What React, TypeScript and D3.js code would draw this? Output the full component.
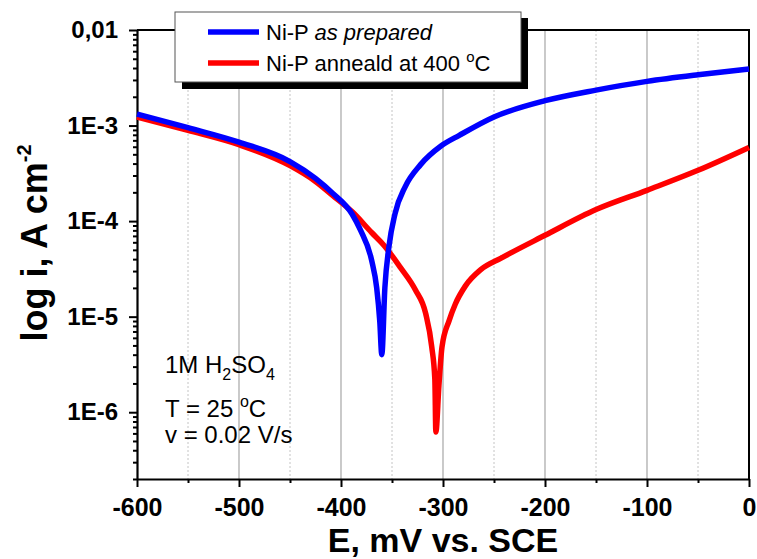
// Potentiodynamic polarization curves (log i vs E) for two Ni-P coatings

import React, { useEffect, useRef } from "react"
import * as d3 from "d3"

// E in mV vs. SCE, current density in A/cm2
const preparedE = [-600, -550, -500, -450, -425, -408, -389, -381, -370, -365, -362, -360, -357, -353, -347, -337, -322, -302, -284, -250, -200, -150, -100, -50, 0]
const preparedI = [1.32e-3, 9.5e-4, 6.7e-4, 4.2e-4, 2.8e-4, 1.95e-4, 1.18e-4, 8.1e-5, 3.9e-5, 2.0e-5, 9e-6, 4e-6, 2e-5, 5.4e-5, 1.2e-4, 2.3e-4, 3.9e-4, 6.1e-4, 7.9e-4, 1.23e-3, 1.82e-3, 2.35e-3, 2.9e-3, 3.4e-3, 3.9e-3]

const annealedE = [-600, -550, -500, -450, -425, -408, -389, -370, -358, -342, -327, -317, -311, -308, -307, -304, -301, -294, -288, -278, -263, -243, -200, -150, -100, -50, 0]
const annealedI = [1.23e-3, 8.9e-4, 6.3e-4, 3.8e-4, 2.6e-4, 1.85e-4, 1.25e-4, 7.6e-5, 5.6e-5, 3.3e-5, 1.9e-5, 1.08e-5, 4.8e-6, 2.2e-6, 6.2e-7, 1.9e-6, 4.8e-6, 9.1e-6, 1.35e-5, 2.1e-5, 3.1e-5, 4.1e-5, 7.1e-5, 1.32e-4, 2.1e-4, 3.4e-4, 5.9e-4]

const xTicks = [-600, -500, -400, -300, -200, -100, 0]
const xMinorTicks = [-550, -450, -350, -250, -150, -50]
const yTicks = [1e-2, 1e-3, 1e-4, 1e-5, 1e-6]
const yTickLabels = ["0,01", "1E-3", "1E-4", "1E-5", "1E-6"]

const FONT = "'Liberation Sans', Arial, sans-serif"

function PolarizationChart() {
  const ref = useRef<SVGSVGElement>(null)

  useEffect(() => {
    const svg = d3.select(ref.current)
    svg.selectAll("*").remove()

    const left = 137, right = 749, top = 30, bottom = 479

    const x = d3.scaleLinear().domain([-600, 0]).range([left, right])
    const y = d3.scaleLog().domain([1e-2, 2e-7]).range([top, bottom])

    // vertical grid: solid at hundreds, dotted at fifties
    svg.append("g")
      .selectAll("line")
      .data(xTicks.slice(1, -1))
      .enter()
      .append("line")
      .attr("x1", d => x(d)).attr("x2", d => x(d))
      .attr("y1", top).attr("y2", bottom)
      .attr("stroke", "#a6a6a6")
      .attr("stroke-width", 1.2)
    svg.append("g")
      .selectAll("line")
      .data(xMinorTicks)
      .enter()
      .append("line")
      .attr("x1", d => x(d)).attr("x2", d => x(d))
      .attr("y1", top).attr("y2", bottom)
      .attr("stroke", "#c4c4c4")
      .attr("stroke-width", 1)
      .attr("stroke-dasharray", "2,2")

    // frame top + right
    svg.append("path")
      .attr("d", `M${left},${top}H${right}V${bottom}`)
      .attr("fill", "none")
      .attr("stroke", "#000")
      .attr("stroke-width", 2)

    // log minor ticks 2..9 per decade
    const yMinor: number[] = []
    for (let p = -7; p <= -3; p++) {
      for (let m = 2; m <= 9; m++) {
        const v = m * Math.pow(10, p)
        if (v >= 2e-7 && v <= 1e-2) yMinor.push(v)
      }
    }

    const yMinorAxis = svg.append("g")
      .attr("transform", `translate(${left},0)`)
      .call(d3.axisLeft(y).tickValues(yMinor).tickSize(4).tickSizeOuter(0).tickFormat(() => ""))
    yMinorAxis.select(".domain").remove()
    yMinorAxis.selectAll("line").attr("stroke-width", 2)

    const yAxis = svg.append("g")
      .attr("transform", `translate(${left},0)`)
      .call(d3.axisLeft(y).tickValues(yTicks).tickSize(8).tickSizeOuter(0).tickPadding(11)
        .tickFormat((d, i) => yTickLabels[i]))
    yAxis.select(".domain").attr("stroke-width", 2.2)
    yAxis.selectAll("line").attr("stroke-width", 2)
    yAxis.selectAll("text")
      .attr("font-family", FONT)
      .attr("font-size", 24)
      .attr("font-weight", "bold")
      .attr("fill", "#000")

    const xMinorAxis = svg.append("g")
      .attr("transform", `translate(0,${bottom})`)
      .call(d3.axisBottom(x).tickValues(xMinorTicks).tickSize(4).tickSizeOuter(0).tickFormat(() => ""))
    xMinorAxis.select(".domain").remove()
    xMinorAxis.selectAll("line").attr("stroke-width", 2)

    const xAxis = svg.append("g")
      .attr("transform", `translate(0,${bottom})`)
      .call(d3.axisBottom(x).tickValues(xTicks).tickSize(8).tickSizeOuter(0).tickPadding(11)
        .tickFormat(d => String(d)))
    xAxis.select(".domain").attr("stroke-width", 2.2)
    xAxis.selectAll("line").attr("stroke-width", 2)
    xAxis.selectAll("text")
      .attr("font-family", FONT)
      .attr("font-size", 25)
      .attr("font-weight", "bold")
      .attr("fill", "#000")

    // curves
    const line = d3.line<[number, number]>()
      .x(d => x(d[0]))
      .y(d => y(d[1]))
      .curve(d3.curveMonotoneX)

    const series = [
      { e: annealedE, i: annealedI, color: "#ff0000" },
      { e: preparedE, i: preparedI, color: "#0000ff" }
    ]
    series.forEach(s => {
      const pts = s.e.map((e, k) => [e, s.i[k]] as [number, number])
      svg.append("path")
        .datum(pts)
        .attr("d", line)
        .attr("fill", "none")
        .attr("stroke", s.color)
        .attr("stroke-width", 5.5)
        .attr("stroke-linejoin", "round")
    })

    // axis titles
    const xt = svg.append("text")
      .attr("x", (left + right) / 2)
      .attr("y", 552)
      .attr("text-anchor", "middle")
      .attr("font-family", FONT)
      .attr("font-size", 34)
      .attr("font-weight", "bold")
    xt.text("E, mV vs. SCE")

    const yt = svg.append("text")
      .attr("transform", "translate(47,243) rotate(-90)")
      .attr("text-anchor", "middle")
      .attr("font-family", FONT)
      .attr("font-size", 36)
      .attr("font-weight", "bold")
    yt.append("tspan").text("log i, A cm")
    yt.append("tspan").attr("font-size", 20).attr("dy", -16).text("-2")

    // legend with drop shadow
    const lg = svg.append("g")
    lg.append("rect").attr("x", 182).attr("y", 18).attr("width", 346).attr("height", 71).attr("fill", "#000")
    lg.append("rect").attr("x", 175).attr("y", 12).attr("width", 346).attr("height", 70)
      .attr("fill", "#fff").attr("stroke", "#555").attr("stroke-width", 1)
    const legendRows = [
      { color: "#0000ff", y: 32 },
      { color: "#ff0000", y: 63 }
    ]
    legendRows.forEach(r => {
      lg.append("line").attr("x1", 208).attr("x2", 259).attr("y1", r.y).attr("y2", r.y)
        .attr("stroke", r.color).attr("stroke-width", 5.5)
    })
    const t1 = lg.append("text").attr("x", 266).attr("y", 39.5)
      .attr("font-family", FONT).attr("font-size", 22)
    t1.append("tspan").text("Ni-P ")
    t1.append("tspan").attr("font-style", "italic").text("as prepared")
    const t2 = lg.append("text").attr("x", 266).attr("y", 70.5)
      .attr("font-family", FONT).attr("font-size", 22)
    t2.append("tspan").text("Ni-P anneald at 400 ")
    t2.append("tspan").attr("font-size", 15).attr("dy", -9).text("o")
    t2.append("tspan").attr("dy", 9).text("C")

    // experimental conditions
    const note = svg.append("g").attr("font-family", FONT).attr("font-size", 24).attr("fill", "#000")
    const n1 = note.append("text").attr("x", 165).attr("y", 373)
    n1.append("tspan").text("1M H")
    n1.append("tspan").attr("font-size", 16).attr("dy", 7).text("2")
    n1.append("tspan").attr("dy", -7).text("SO")
    n1.append("tspan").attr("font-size", 16).attr("dy", 7).text("4")
    const n2 = note.append("text").attr("x", 165).attr("y", 417)
    n2.append("tspan").text("T = 25 ")
    n2.append("tspan").attr("font-size", 16).attr("dy", -10).text("o")
    n2.append("tspan").attr("dy", 10).text("C")
    note.append("text").attr("x", 165).attr("y", 443).text("v = 0.02 V/s")
  }, [])

  return (
    <svg ref={ref} width={757} height={559}
      style={{ position: "absolute", left: 0, top: 0, background: "#fff" }} />
  )
}

export default function App() {
  return <PolarizationChart />
}
